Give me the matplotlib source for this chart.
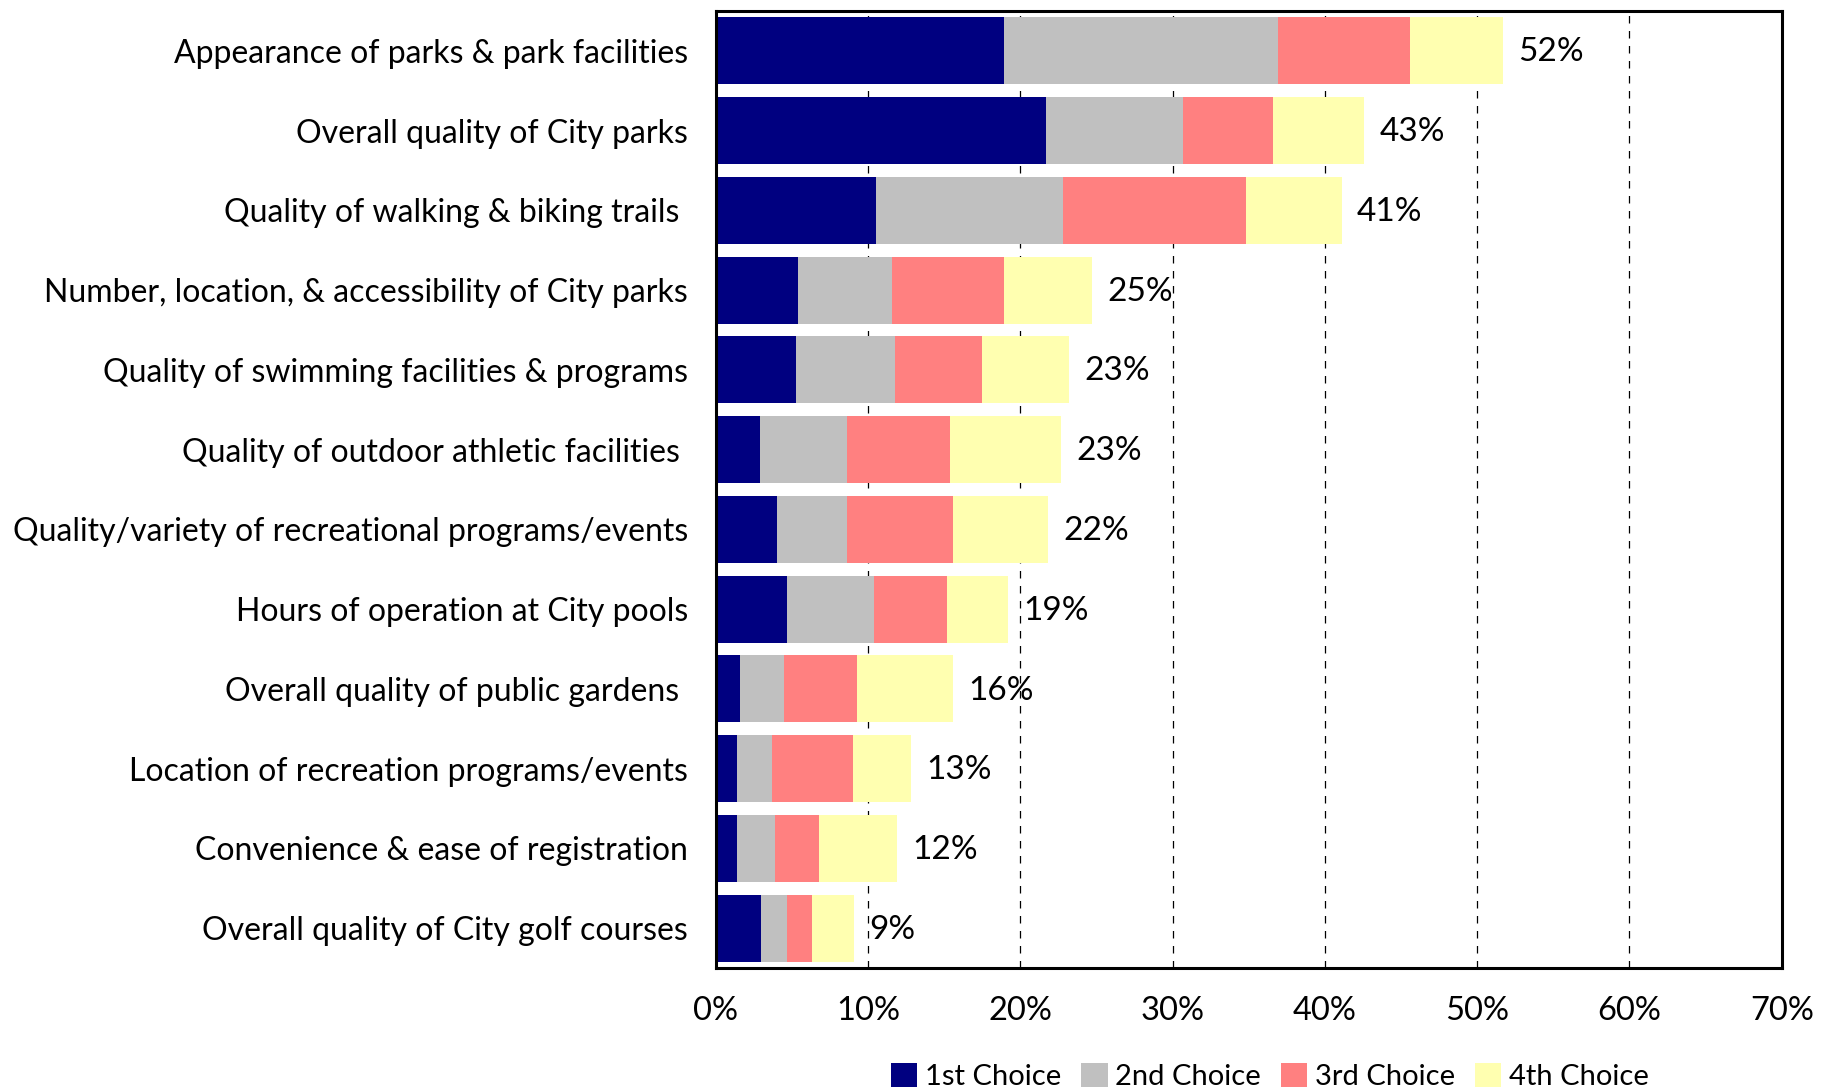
import matplotlib
matplotlib.use("Agg")
from matplotlib import pyplot as plt
import numpy as np

# categories, top to bottom
categories = [
    "Appearance of parks & park facilities",
    "Overall quality of City parks",
    "Quality of walking & biking trails ",
    "Number, location, & accessibility of City parks",
    "Quality of swimming facilities & programs",
    "Quality of outdoor athletic facilities ",
    "Quality/variety of recreational programs/events",
    "Hours of operation at City pools",
    "Overall quality of public gardens ",
    "Location of recreation programs/events",
    "Convenience & ease of registration",
    "Overall quality of City golf courses",
]

first = [18.9, 21.7, 10.5, 5.4, 5.3, 2.9, 4.0, 4.7, 1.6, 1.4, 1.4, 3.0]
second = [18.0, 9.0, 12.3, 6.2, 6.5, 5.7, 4.6, 5.7, 2.9, 2.3, 2.5, 1.7]
third = [8.7, 5.9, 12.0, 7.3, 5.7, 6.8, 7.0, 4.8, 4.8, 5.3, 2.9, 1.6]
fourth = [6.1, 6.0, 6.3, 5.8, 5.7, 7.3, 6.2, 4.0, 6.3, 3.8, 5.1, 2.8]

series_names = ["1st Choice", "2nd Choice", "3rd Choice", "4th Choice"]
colors = ["#000080", "#C0C0C0", "#FF8080", "#FFFFB0"]
xticks = [0, 10, 20, 30, 40, 50, 60, 70]

plt.rcParams['font.family'] = ['Lato', 'DejaVu Sans']

fig = plt.figure(figsize=(18.35, 10.89), dpi=100)
ax = fig.add_axes([0.390, 0.111, 0.581, 0.879])

y = np.arange(len(categories))
left = np.zeros(len(categories))
for vals, name, c in zip([first, second, third, fourth], series_names, colors):
    ax.barh(y, vals, left=left, height=0.84, color=c, label=name, zorder=2)
    left = left + np.array(vals)

for yi, tot in zip(y, left):
    ax.text(tot + 1.0, yi + 0.02, "%d%%" % round(tot), va="center", ha="left", fontsize=24, zorder=3)

ax.set_xlim(0, 70)
ax.set_ylim(len(categories) - 0.5, -0.5)
ax.set_yticks(y)
ax.set_yticklabels(categories, fontsize=23)
ax.set_xticks(xticks)
ax.set_xticklabels(["%d%%" % t for t in xticks], fontsize=23.5)
ax.tick_params(axis="y", length=0, pad=20)
ax.tick_params(axis="x", length=0, pad=20)

ax.grid(axis="x", color="black", linestyle=(0, (6, 6)), linewidth=0.9, zorder=0)
ax.set_axisbelow(True)
for s in ax.spines.values():
    s.set_linewidth(2.2)
    s.set_color("black")

fig.legend(loc="lower center", bbox_to_anchor=(0.692, -0.025), ncol=4, frameon=False,
           fontsize=21, handlelength=0.9, handleheight=0.9, handletextpad=0.25,
           columnspacing=0.7)

fig.savefig("out.png", dpi=100)
